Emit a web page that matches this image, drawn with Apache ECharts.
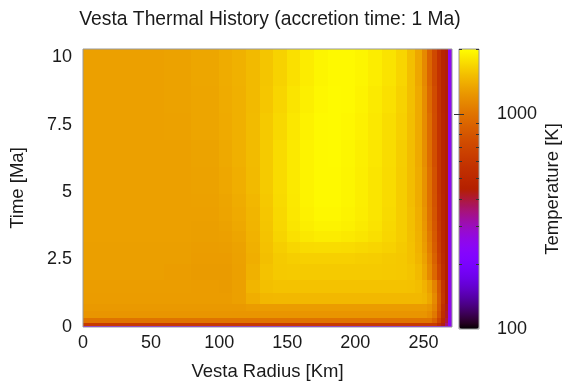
<!DOCTYPE html>
<html>
<head>
<meta charset="utf-8">
<script src="https://cdn.jsdelivr.net/npm/echarts@6/dist/echarts.min.js"></script>
<style>
  html, body { margin: 0; padding: 0; background: #fff; }
  #chart { width: 565px; height: 386px; }
</style>
</head>
<body>
<div id="chart"></div>
<script>
// cell edges along the radius (km) and along time (Ma)
var R_EDGES = [0, 20, 40, 60, 80, 100, 110, 120, 130, 140, 150, 160, 170, 180, 190, 200,
    210, 220, 230, 238, 244, 249, 253, 257, 260, 263, 266, 268.5, 271];
var T_EDGES = [0, 0.11, 0.22, 0.4, 0.65, 0.9, 1.3, 1.8, 2.4, 2.8, 3.2, 3.6, 4.0, 4.5, 5.0,
    6.0, 7.0, 8.0, 9.0, 10.3];

// temperature [K], one row per time slice (bottom to top), one value per radius cell
var TEMP = [
    [250,250,250,250,250,250,250,250,250,250,250,250,250,250,250,250,250,250,250,250,250,250,250,250,250,250,250,250],
    [620,620,620,620,620,620,620,620,620,620,620,620,620,620,620,620,620,620,620,620,620,620,620,620,540,430,360,250],
    [1000,1000,1000,1000,1000,1000,1000,1000,1000,1000,1000,1000,1000,1000,1000,1000,1000,1000,1000,1000,1000,1000,1000,880,680,500,400,250],
    [1220,1220,1220,1220,1220,1220,1220,1220,1220,1220,1220,1220,1220,1220,1220,1220,1220,1220,1220,1220,1220,1220,1170,1030,780,540,420,255],
    [1250,1250,1250,1250,1250,1250,1250,1270,1270,1270,1270,1270,1270,1270,1270,1270,1270,1270,1270,1270,1270,1270,1230,1100,820,560,430,255],
    [1270,1270,1270,1270,1270,1270,1300,1400,1460,1470,1470,1470,1470,1470,1470,1470,1470,1470,1470,1470,1470,1450,1350,1150,850,590,450,255],
    [1280,1280,1280,1280,1270,1265,1300,1450,1520,1540,1540,1540,1540,1540,1540,1540,1540,1540,1540,1530,1500,1430,1300,1100,820,580,450,255],
    [1290,1290,1290,1280,1265,1265,1300,1420,1540,1590,1600,1600,1600,1600,1600,1600,1600,1590,1580,1550,1480,1350,1150,920,700,540,450,252],
    [1290,1290,1290,1290,1270,1275,1305,1400,1520,1600,1630,1640,1640,1640,1640,1630,1620,1600,1580,1530,1450,1310,1110,880,665,520,450,252],
    [1295,1295,1295,1295,1280,1285,1315,1410,1530,1630,1690,1720,1730,1730,1720,1700,1680,1650,1600,1530,1430,1280,1070,850,640,510,450,250],
    [1300,1300,1300,1300,1290,1300,1335,1425,1545,1670,1760,1820,1850,1850,1830,1800,1750,1690,1620,1525,1420,1260,1040,830,630,505,448,250],
    [1300,1300,1300,1300,1295,1315,1355,1440,1560,1695,1795,1870,1905,1905,1885,1840,1780,1705,1620,1520,1405,1240,1010,810,615,500,448,250],
    [1300,1300,1300,1300,1300,1325,1370,1450,1570,1705,1810,1890,1935,1935,1910,1860,1795,1715,1620,1515,1395,1220,995,795,605,498,446,250],
    [1300,1300,1300,1300,1305,1335,1385,1465,1585,1715,1825,1905,1950,1950,1920,1870,1800,1720,1620,1505,1385,1205,985,785,600,495,446,250],
    [1300,1300,1300,1300,1310,1350,1400,1480,1600,1720,1830,1910,1950,1950,1920,1870,1800,1720,1620,1500,1380,1200,980,780,595,492,445,250],
    [1300,1300,1300,1300,1320,1360,1410,1490,1600,1720,1830,1910,1950,1960,1930,1880,1810,1730,1630,1500,1370,1180,960,760,590,490,445,250],
    [1300,1300,1300,1305,1330,1370,1410,1490,1590,1700,1810,1900,1950,1960,1940,1890,1820,1740,1640,1510,1370,1170,950,750,585,488,444,250],
    [1300,1300,1300,1310,1335,1375,1415,1480,1570,1680,1790,1880,1940,1960,1950,1910,1840,1760,1660,1520,1370,1170,930,740,580,486,442,250],
    [1300,1300,1300,1310,1340,1380,1420,1480,1560,1660,1760,1850,1920,1950,1950,1920,1860,1780,1680,1520,1350,1150,900,720,575,484,440,250]
];

var X_TICKS = [0, 50, 100, 150, 200, 250];
var Y_TICKS = [0, 2.5, 5, 7.5, 10];
var CB_LABELS = [100, 1000];
var CB_MINOR = [200, 300, 400, 500, 600, 700, 800, 900, 2000];
var T_MIN = 100, T_MAX = 2000;

var FONT = 'Liberation Sans';
var TXT = '#1a1a1a';
var TICK_SIZE = 18, NAME_SIZE = 18.5, TITLE_SIZE = 19.3;

// gnuplot default palette (rgbformulae 7,5,15)
function gnuplotColor(f) {
    var r = Math.sqrt(f), g = f * f * f, b = Math.sin(2 * Math.PI * f);
    if (b < 0) b = 0;
    return 'rgb(' + Math.round(255 * r) + ',' + Math.round(255 * g) + ',' + Math.round(255 * b) + ')';
}
var stops = [];
for (var k = 0; k <= 64; k++) stops.push(gnuplotColor(k / 64));

var cells = [];
for (var j = 0; j < TEMP.length; j++) {
    for (var i = 0; i < TEMP[j].length; i++) {
        cells.push([R_EDGES[i], R_EDGES[i + 1], T_EDGES[j], T_EDGES[j + 1], Math.log10(TEMP[j][i]), TEMP[j][i]]);
    }
}

function renderCell(params, api) {
    var p0 = api.coord([api.value(0), api.value(3)]);
    var p1 = api.coord([api.value(1), api.value(2)]);
    var x = Math.floor(p0[0]), y = Math.floor(p0[1]);
    return {
        type: 'rect',
        shape: { x: x, y: y, width: Math.ceil(p1[0]) - x + 1, height: Math.ceil(p1[1]) - y + 1 },
        style: { fill: api.visual('color') }
    };
}

function cbAxis(pos, len, ticks, labels, extra) {
    var a = {
        gridIndex: 1, type: 'log', logBase: 10, min: T_MIN, max: T_MAX, position: pos, z: 12,
        axisLine: { show: false }, splitLine: { show: false },
        axisTick: { show: true, inside: true, length: len, customValues: ticks, lineStyle: { color: '#333', width: 1 } },
        axisLabel: labels ? {
            show: true, customValues: labels, margin: 18, fontFamily: FONT, fontSize: TICK_SIZE, color: TXT,
            formatter: function (v) { return String(Math.round(v)); }
        } : { show: false }
    };
    if (extra) for (var key in extra) a[key] = extra[key];
    return a;
}

var chart = echarts.init(document.getElementById('chart'), null, { renderer: 'canvas' });
chart.setOption({
    animation: false,
    backgroundColor: '#fff',
    title: {
        text: 'Vesta Thermal History (accretion time: 1 Ma)',
        left: 265, top: 5, textAlign: 'center',
        textStyle: { fontFamily: FONT, fontSize: TITLE_SIZE, fontWeight: 'normal', color: TXT }
    },
    grid: [
        { left: 83, right: 113, top: 49, bottom: 57, show: true, borderColor: '#999', borderWidth: 1, backgroundColor: 'transparent', z: 10 },
        { left: 459, width: 20, top: 49, bottom: 57, show: true, borderColor: '#999', borderWidth: 1, backgroundColor: 'transparent', z: 10 }
    ],
    xAxis: [
        {
            type: 'value', min: 0, max: 271, gridIndex: 0,
            name: 'Vesta Radius [Km]', nameLocation: 'middle', nameGap: 35,
            nameTextStyle: { fontFamily: FONT, fontSize: NAME_SIZE, color: TXT },
            axisLine: { show: false }, axisTick: { show: false }, splitLine: { show: false },
            axisLabel: { customValues: X_TICKS, margin: 7, fontFamily: FONT, fontSize: TICK_SIZE, color: TXT }
        },
        { type: 'value', gridIndex: 1, show: false, min: 0, max: 1 }
    ],
    yAxis: [
        {
            type: 'value', min: 0, max: 10.3, gridIndex: 0,
            name: 'Time [Ma]', nameLocation: 'middle', nameGap: 56, nameRotate: 90,
            nameTextStyle: { fontFamily: FONT, fontSize: NAME_SIZE, color: TXT },
            axisLine: { show: false }, axisTick: { show: false }, splitLine: { show: false },
            axisLabel: { customValues: Y_TICKS, margin: 11, fontFamily: FONT, fontSize: TICK_SIZE, color: TXT }
        },
        cbAxis('right', 5, [1000], CB_LABELS, {
            name: 'Temperature [K]', nameLocation: 'middle', nameGap: 64, nameRotate: 90,
            nameTextStyle: { fontFamily: FONT, fontSize: NAME_SIZE, color: TXT }
        }),
        cbAxis('right', 3, CB_MINOR, null),
        cbAxis('left', 5, [1000], null),
        cbAxis('left', 3, CB_MINOR, null)
    ],
    visualMap: {
        type: 'continuous', min: 2, max: Math.log10(T_MAX), dimension: 4, seriesIndex: 0,
        calculable: false, hoverLink: false,
        left: 459, top: 49, itemWidth: 20, itemHeight: 280, padding: 0,
        inRange: { color: stops }
    },
    series: [{
        type: 'custom',
        xAxisIndex: 0, yAxisIndex: 0,
        renderItem: renderCell,
        encode: { x: [0, 1], y: [2, 3] },
        clip: true,
        data: cells
    }]
});
</script>
</body>
</html>
